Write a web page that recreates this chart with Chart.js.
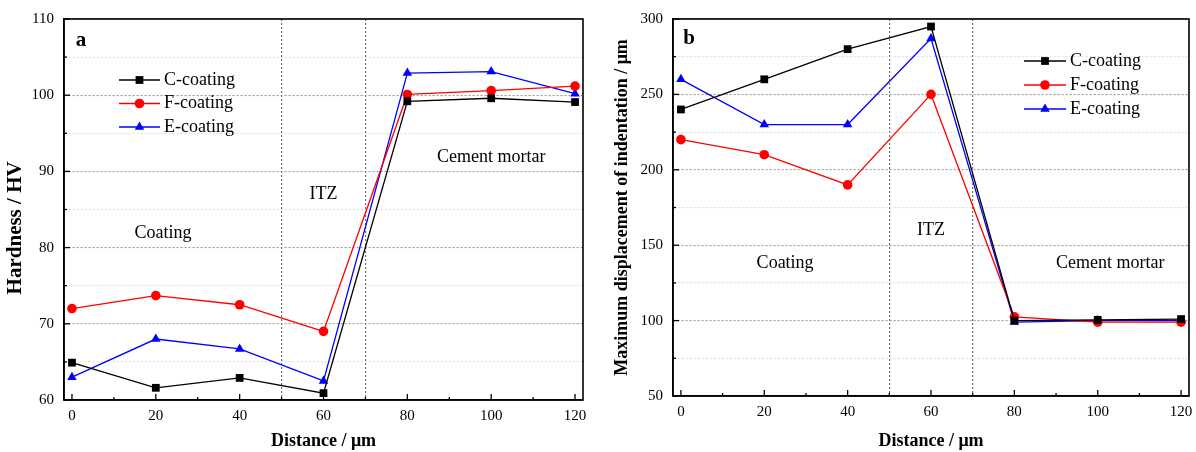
<!DOCTYPE html>
<html>
<head>
<meta charset="utf-8">
<script src="https://cdn.jsdelivr.net/npm/chart.js@4/dist/chart.umd.min.js"></script>
<style>
  body { margin: 0; background: #fff; }
  #wrap { position: relative; width: 1196px; height: 452px; }
  .panel { position: absolute; top: 0; height: 452px; }
</style>
</head>
<body>
<div id="wrap">
  <div class="panel" style="left:0;width:600px"><canvas id="chartA" width="600" height="452"></canvas></div>
  <div class="panel" style="left:600px;width:596px"><canvas id="chartB" width="596" height="452"></canvas></div>
</div>
<script>
// data
const distance = [0, 20, 40, 60, 80, 100, 120];
const seriesNames = ['C-coating', 'F-coating', 'E-coating'];

const hardnessC = [64.9, 61.6, 62.9, 60.9, 99.2, 99.6, 99.1];
const hardnessF = [72.0, 73.7, 72.5, 69.0, 100.1, 100.6, 101.2];
const hardnessE = [63.0, 68.0, 66.7, 62.5, 102.9, 103.1, 100.2];

const dispC = [240, 260, 280, 295, 100, 100.5, 101];
const dispF = [220, 210, 190, 250, 102.5, 99, 99];
const dispE = [260, 230, 230, 287, 99, 100, 100];

const distanceTicks = [0, 20, 40, 60, 80, 100, 120];
const distanceMinor = [10, 30, 50, 70, 90, 110];
const hardnessTicks = [60, 70, 80, 90, 100, 110];
const dispTicks = [50, 100, 150, 200, 250, 300];
const zoneBounds = [50, 70];

const colors = ['#000000', '#ff0000', '#0000ff'];
const markers = ['rect', 'circle', 'triangle'];
const markerSize = [5.5, 4.8, 5.5];
const serif = "'Liberation Serif', 'Times New Roman', serif";

function makeDatasets(lists) {
  return lists.map((vals, i) => ({
    label: seriesNames[i],
    data: distance.map((x, j) => ({ x: x, y: vals[j] })),
    borderColor: colors[i],
    backgroundColor: colors[i],
    borderWidth: 1.3,
    pointStyle: markers[i],
    pointRadius: markerSize[i],
    pointBorderWidth: 0,
    tension: 0
  }));
}

// frame box + inward tick marks
const framePlugin = {
  id: 'frame',
  afterDatasetsDraw(chart) {
    const { ctx, chartArea: a, scales } = chart;
    const opts = chart.options.plugins.frame;
    ctx.save();
    ctx.strokeStyle = '#000';
    ctx.lineWidth = 1.3;
    scales.x.ticks.forEach(t => {
      const px = scales.x.getPixelForValue(t.value);
      const len = distanceTicks.includes(t.value) ? 6 : 3;
      ctx.beginPath(); ctx.moveTo(px, a.bottom); ctx.lineTo(px, a.bottom - len); ctx.stroke();
    });
    scales.y.ticks.forEach(t => {
      const py = scales.y.getPixelForValue(t.value);
      const len = opts.yMajor.includes(t.value) ? 6 : 3;
      ctx.beginPath(); ctx.moveTo(a.left, py); ctx.lineTo(a.left + len, py); ctx.stroke();
    });
    ctx.lineWidth = 1.6;
    ctx.strokeRect(a.left, a.top, a.right - a.left, a.bottom - a.top);
    ctx.restore();
  }
};

// region labels and panel letter
const notesPlugin = {
  id: 'notes',
  afterDraw(chart) {
    const { ctx, chartArea: a, scales } = chart;
    const opts = chart.options.plugins.notes;
    ctx.save();
    ctx.fillStyle = '#000';
    ctx.textAlign = 'center';
    ctx.textBaseline = 'middle';
    ctx.font = 'bold 21px ' + serif;
    ctx.fillText(opts.letter, a.left + opts.letterDx, a.top + opts.letterDy);
    ctx.font = '18px ' + serif;
    opts.items.forEach(n => {
      ctx.fillText(n.text, scales.x.getPixelForValue(n.x), scales.y.getPixelForValue(n.y));
    });
    ctx.restore();
  }
};

// legend drawn inside the plot
const keyPlugin = {
  id: 'key',
  afterDraw(chart) {
    const { ctx, chartArea: a } = chart;
    const o = chart.options.plugins.key;
    ctx.save();
    ctx.font = '18px ' + serif;
    ctx.textBaseline = 'middle';
    chart.data.datasets.forEach((ds, i) => {
      const x0 = a.left + o.dx, y = a.top + o.dy + i * o.gap;
      ctx.strokeStyle = ds.borderColor;
      ctx.fillStyle = ds.backgroundColor;
      ctx.lineWidth = 1.3;
      ctx.beginPath(); ctx.moveTo(x0, y); ctx.lineTo(x0 + o.len, y); ctx.stroke();
      Chart.helpers.drawPoint(ctx, { pointStyle: ds.pointStyle, radius: ds.pointRadius, rotation: 0, borderWidth: 0 }, x0 + o.len / 2, y);
      ctx.fillStyle = '#000';
      ctx.fillText(ds.label, x0 + o.len + 4, y);
    });
    ctx.restore();
  }
};

function buildChart(id, cfg) {
  return new Chart(document.getElementById(id), {
    type: 'line',
    data: { datasets: makeDatasets(cfg.series) },
    options: {
      responsive: false,
      animation: false,
      layout: { padding: { top: cfg.top, right: cfg.right, left: 0, bottom: 0 } },
      plugins: {
        legend: { display: false },
        tooltip: { enabled: false },
        frame: { yMajor: cfg.yTicks },
        notes: cfg.notes,
        key: cfg.key
      },
      scales: {
        x: {
          type: 'linear',
          min: -1.9,
          max: 121.9,
          afterBuildTicks: s => {
            s.ticks = distanceTicks.concat(distanceMinor).sort((p, q) => p - q).map(v => ({ value: v }));
          },
          afterFit: s => {
            s.height = cfg.xHeight;
            // let the end labels hang past the plot box
            s.paddingLeft = 0;
            s.paddingRight = 0;
          },
          ticks: {
            autoSkip: false, maxRotation: 0, padding: 7,
            color: '#000', font: { family: serif, size: 15 },
            callback: v => distanceTicks.includes(v) ? v : ''
          },
          grid: {
            drawTicks: false,
            color: c => zoneBounds.includes(c.tick.value) ? '#6f6f6f' : 'rgba(0,0,0,0)',
            lineWidth: 1.2
          },
          border: { color: '#000', width: 1.6, dash: [2, 2] },
          title: {
            display: true, text: 'Distance / μm', color: '#000',
            font: { family: serif, size: 18, weight: 'bold' },
            padding: { top: 4, bottom: 0 }
          }
        },
        y: {
          min: cfg.yMin,
          max: cfg.yMax,
          afterFit: s => { s.width = cfg.yWidth; },
          ticks: {
            stepSize: cfg.yStep, padding: 10, color: '#000',
            font: { family: serif, size: 15 },
            callback: v => cfg.yTicks.includes(v) ? v : ''
          },
          grid: {
            drawTicks: false,
            color: c => cfg.yTicks.includes(c.tick.value) ? '#9a9a9a' : '#dedede',
            lineWidth: 1.1
          },
          border: { color: '#000', width: 1.6, dash: [2, 2] },
          title: {
            display: true, text: cfg.yTitle, color: '#000',
            font: { family: serif, size: cfg.yTitleSize, weight: 'bold' },
            padding: { top: cfg.yTitlePad, bottom: 0 }
          }
        }
      }
    },
    plugins: [framePlugin, notesPlugin, keyPlugin]
  });
}

buildChart('chartA', {
  series: [hardnessC, hardnessF, hardnessE],
  yMin: 60, yMax: 110, yStep: 5, yTicks: hardnessTicks,
  // trailing spaces push the title a little lower, as in the figure
  yTitle: 'Hardness / HV       ', yTitleSize: 21, yTitlePad: 3,
  top: 18, right: 17, yWidth: 64, xHeight: 52,
  notes: {
    letter: 'a', letterDx: 17, letterDy: 22,
    items: [
      { text: 'Coating', x: 21.7, y: 81.9 },
      { text: 'ITZ', x: 60, y: 87 },
      { text: 'Cement mortar', x: 100, y: 91.8 }
    ]
  },
  key: { dx: 55, dy: 61, gap: 23.5, len: 41 }
});

buildChart('chartB', {
  series: [dispC, dispF, dispE],
  yMin: 50, yMax: 300, yStep: 25, yTicks: dispTicks,
  yTitle: 'Maximum displacement of indentation / μm', yTitleSize: 18, yTitlePad: 12,
  top: 19, right: 7, yWidth: 73, xHeight: 56,
  notes: {
    letter: 'b', letterDx: 16, letterDy: 20,
    items: [
      { text: 'Coating', x: 25, y: 138 },
      { text: 'ITZ', x: 60, y: 160 },
      { text: 'Cement mortar', x: 103, y: 138 }
    ]
  },
  key: { dx: 351, dy: 42, gap: 24, len: 42 }
});
</script>
</body>
</html>
